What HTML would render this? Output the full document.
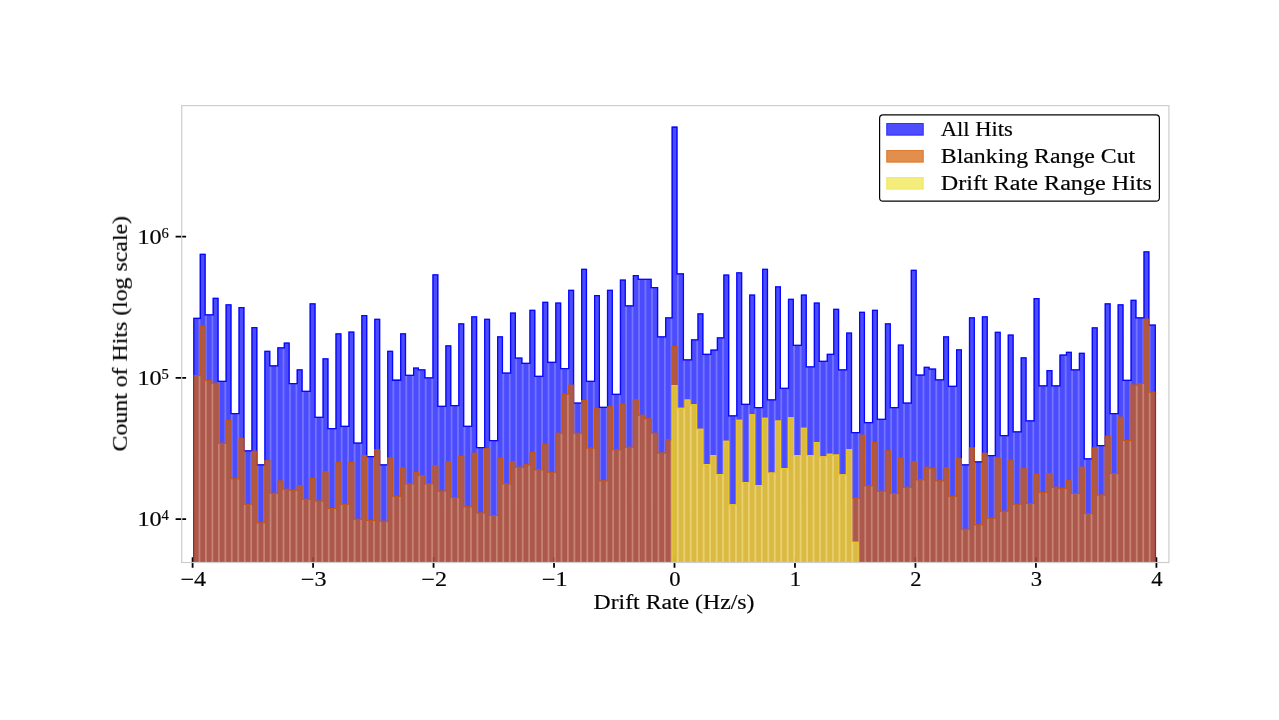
<!DOCTYPE html>
<html><head><meta charset="utf-8"><title>Drift Rate Histogram</title>
<style>html,body{margin:0;padding:0;background:#fff;}body{width:1279px;height:720px;overflow:hidden;position:relative;font-family:"Liberation Serif",serif;}</style>
</head><body>
<svg width="1279" height="720" viewBox="0 0 1279 720" style="position:absolute;left:0;top:0;display:block" font-family="'Liberation Serif', serif" fill="#000">
<rect width="1279" height="720" fill="#fff"/>
<path d="M192.6,557.2V567.7M313.08,557.2V567.7M433.55,557.2V567.7M554.02,557.2V567.7M674.5,557.2V567.7M794.98,557.2V567.7M915.45,557.2V567.7M1035.92,557.2V567.7M1156.4,557.2V567.7M175.6,236.6H186.1M175.6,377.9H186.1M175.6,519.1H186.1" stroke="#000" stroke-width="1.8" fill="none"/>
<clipPath id="c"><rect x="181.7" y="105.6" width="987.2" height="456.9"/></clipPath>
<g clip-path="url(#c)">
<clipPath id="s1"><path d="M193.22,565.5 L193.22,317.7 L199.68,317.7 L199.68,253.8 L205.71,253.8 L205.71,314.2 L212.61,314.2 L212.61,297.8 L218.64,297.8 L218.64,380.8 L225.54,380.8 L225.54,304.2 L231.56,304.2 L231.56,413 L238.47,413 L238.47,307 L244.49,307 L244.49,450.3 L251.4,450.3 L251.4,327 L257.42,327 L257.42,464.2 L264.32,464.2 L264.32,350.7 L270.35,350.7 L270.35,365.3 L277.25,365.3 L277.25,347.2 L283.72,347.2 L283.72,342.5 L289.74,342.5 L289.74,383 L296.64,383 L296.64,369.2 L302.67,369.2 L302.67,390.8 L309.57,390.8 L309.57,303.3 L315.6,303.3 L315.6,416.7 L322.5,416.7 L322.5,358.2 L328.52,358.2 L328.52,428 L335.43,428 L335.43,333.3 L341.45,333.3 L341.45,425.8 L348.36,425.8 L348.36,331.5 L354.38,331.5 L354.38,442.5 L361.28,442.5 L361.28,315 L367.31,315 L367.31,456 L374.21,456 L374.21,318.7 L380.24,318.7 L380.24,464.2 L387.14,464.2 L387.14,350.8 L393.16,350.8 L393.16,379.6 L400.07,379.6 L400.07,333.3 L406.09,333.3 L406.09,374.7 L413,374.7 L413,367.5 L419.02,367.5 L419.02,369.2 L425.48,369.2 L425.48,377.2 L432.39,377.2 L432.39,274.2 L438.41,274.2 L438.41,405.8 L445.32,405.8 L445.32,345.3 L451.34,345.3 L451.34,405 L458.24,405 L458.24,323.3 L464.27,323.3 L464.27,425.8 L471.17,425.8 L471.17,316.2 L477.2,316.2 L477.2,447 L484.1,447 L484.1,318.7 L490.12,318.7 L490.12,440 L497.03,440 L497.03,336.3 L503.05,336.3 L503.05,372.5 L509.96,372.5 L509.96,312.5 L515.98,312.5 L515.98,357.5 L522.44,357.5 L522.44,362.7 L529.35,362.7 L529.35,309.7 L535.37,309.7 L535.37,375.8 L542.28,375.8 L542.28,301.7 L548.3,301.7 L548.3,361.8 L555.2,361.8 L555.2,302.5 L561.23,302.5 L561.23,367.9 L568.13,367.9 L568.13,289.7 L574.16,289.7 L574.16,402.5 L581.06,402.5 L581.06,268.7 L587.08,268.7 L587.08,380.8 L593.99,380.8 L593.99,295 L600.01,295 L600.01,406.7 L606.92,406.7 L606.92,289.7 L612.94,289.7 L612.94,393.8 L619.84,393.8 L619.84,279.5 L625.87,279.5 L625.87,305.3 L632.77,305.3 L632.77,275 L638.8,275 L638.8,278.8 L645.48,278.8 L645.48,278.8 L651.72,278.8 L651.72,287 L658.19,287 L658.19,336.3 L665.09,336.3 L665.09,317.2 L671.56,317.2 L671.56,126.6 L677.58,126.6 L677.58,273.3 L684.04,273.3 L684.04,359.2 L690.95,359.2 L690.95,339.2 L697.41,339.2 L697.41,313.3 L703.44,313.3 L703.44,353.7 L710.34,353.7 L710.34,349.5 L716.8,349.5 L716.8,337.2 L723.27,337.2 L723.27,274.5 L729.29,274.5 L729.29,415.3 L736.2,415.3 L736.2,272.2 L742.22,272.2 L742.22,403.7 L749.12,403.7 L749.12,294.5 L755.15,294.5 L755.15,407 L762.05,407 L762.05,268.8 L768.08,268.8 L768.08,399.2 L774.98,399.2 L774.98,286.2 L781,286.2 L781,387.8 L787.91,387.8 L787.91,298.8 L793.93,298.8 L793.93,344.7 L800.84,344.7 L800.84,294.5 L806.86,294.5 L806.86,366.3 L813.76,366.3 L813.76,302.5 L819.79,302.5 L819.79,360.8 L826.69,360.8 L826.69,353.7 L833.16,353.7 L833.16,308.8 L839.18,308.8 L839.18,369.2 L846.08,369.2 L846.08,332.5 L852.11,332.5 L852.11,432 L859.01,432 L859.01,311.7 L865.04,311.7 L865.04,422 L871.94,422 L871.94,309.7 L877.96,309.7 L877.96,418.8 L884.87,418.8 L884.87,323.3 L890.89,323.3 L890.89,407 L897.8,407 L897.8,344.5 L903.82,344.5 L903.82,402.5 L910.72,402.5 L910.72,269.7 L916.75,269.7 L916.75,374.5 L923.65,374.5 L923.65,366.7 L929.68,366.7 L929.68,368.5 L936.14,368.5 L936.14,379.2 L943.04,379.2 L943.04,336.3 L949.07,336.3 L949.07,385.8 L955.97,385.8 L955.97,349.2 L962,349.2 L962,464.2 L968.9,464.2 L968.9,317.2 L974.92,317.2 L974.92,461.2 L981.83,461.2 L981.83,316.3 L987.85,316.3 L987.85,455 L994.76,455 L994.76,331.7 L1000.78,331.7 L1000.78,435 L1007.68,435 L1007.68,334.5 L1013.71,334.5 L1013.71,431.2 L1020.61,431.2 L1020.61,357.2 L1026.64,357.2 L1026.64,420.3 L1033.54,420.3 L1033.54,298 L1039.56,298 L1039.56,385.3 L1046.47,385.3 L1046.47,370 L1052.49,370 L1052.49,385.3 L1059.4,385.3 L1059.4,354.5 L1065.86,354.5 L1065.86,351.7 L1071.88,351.7 L1071.88,369.2 L1078.79,369.2 L1078.79,352.7 L1084.81,352.7 L1084.81,458.3 L1091.72,458.3 L1091.72,327.2 L1097.74,327.2 L1097.74,445 L1104.64,445 L1104.64,303.3 L1110.67,303.3 L1110.67,413 L1117.57,413 L1117.57,304.2 L1123.6,304.2 L1123.6,379.8 L1130.5,379.8 L1130.5,299.7 L1136.52,299.7 L1136.52,317.2 L1143.43,317.2 L1143.43,251.2 L1149.45,251.2 L1149.45,324.5 L1155.92,324.5 L1155.92,565.5Z"/></clipPath>
<path d="M193.22,565.5 L193.22,317.7 L199.68,317.7 L199.68,253.8 L205.71,253.8 L205.71,314.2 L212.61,314.2 L212.61,297.8 L218.64,297.8 L218.64,380.8 L225.54,380.8 L225.54,304.2 L231.56,304.2 L231.56,413 L238.47,413 L238.47,307 L244.49,307 L244.49,450.3 L251.4,450.3 L251.4,327 L257.42,327 L257.42,464.2 L264.32,464.2 L264.32,350.7 L270.35,350.7 L270.35,365.3 L277.25,365.3 L277.25,347.2 L283.72,347.2 L283.72,342.5 L289.74,342.5 L289.74,383 L296.64,383 L296.64,369.2 L302.67,369.2 L302.67,390.8 L309.57,390.8 L309.57,303.3 L315.6,303.3 L315.6,416.7 L322.5,416.7 L322.5,358.2 L328.52,358.2 L328.52,428 L335.43,428 L335.43,333.3 L341.45,333.3 L341.45,425.8 L348.36,425.8 L348.36,331.5 L354.38,331.5 L354.38,442.5 L361.28,442.5 L361.28,315 L367.31,315 L367.31,456 L374.21,456 L374.21,318.7 L380.24,318.7 L380.24,464.2 L387.14,464.2 L387.14,350.8 L393.16,350.8 L393.16,379.6 L400.07,379.6 L400.07,333.3 L406.09,333.3 L406.09,374.7 L413,374.7 L413,367.5 L419.02,367.5 L419.02,369.2 L425.48,369.2 L425.48,377.2 L432.39,377.2 L432.39,274.2 L438.41,274.2 L438.41,405.8 L445.32,405.8 L445.32,345.3 L451.34,345.3 L451.34,405 L458.24,405 L458.24,323.3 L464.27,323.3 L464.27,425.8 L471.17,425.8 L471.17,316.2 L477.2,316.2 L477.2,447 L484.1,447 L484.1,318.7 L490.12,318.7 L490.12,440 L497.03,440 L497.03,336.3 L503.05,336.3 L503.05,372.5 L509.96,372.5 L509.96,312.5 L515.98,312.5 L515.98,357.5 L522.44,357.5 L522.44,362.7 L529.35,362.7 L529.35,309.7 L535.37,309.7 L535.37,375.8 L542.28,375.8 L542.28,301.7 L548.3,301.7 L548.3,361.8 L555.2,361.8 L555.2,302.5 L561.23,302.5 L561.23,367.9 L568.13,367.9 L568.13,289.7 L574.16,289.7 L574.16,402.5 L581.06,402.5 L581.06,268.7 L587.08,268.7 L587.08,380.8 L593.99,380.8 L593.99,295 L600.01,295 L600.01,406.7 L606.92,406.7 L606.92,289.7 L612.94,289.7 L612.94,393.8 L619.84,393.8 L619.84,279.5 L625.87,279.5 L625.87,305.3 L632.77,305.3 L632.77,275 L638.8,275 L638.8,278.8 L645.48,278.8 L645.48,278.8 L651.72,278.8 L651.72,287 L658.19,287 L658.19,336.3 L665.09,336.3 L665.09,317.2 L671.56,317.2 L671.56,126.6 L677.58,126.6 L677.58,273.3 L684.04,273.3 L684.04,359.2 L690.95,359.2 L690.95,339.2 L697.41,339.2 L697.41,313.3 L703.44,313.3 L703.44,353.7 L710.34,353.7 L710.34,349.5 L716.8,349.5 L716.8,337.2 L723.27,337.2 L723.27,274.5 L729.29,274.5 L729.29,415.3 L736.2,415.3 L736.2,272.2 L742.22,272.2 L742.22,403.7 L749.12,403.7 L749.12,294.5 L755.15,294.5 L755.15,407 L762.05,407 L762.05,268.8 L768.08,268.8 L768.08,399.2 L774.98,399.2 L774.98,286.2 L781,286.2 L781,387.8 L787.91,387.8 L787.91,298.8 L793.93,298.8 L793.93,344.7 L800.84,344.7 L800.84,294.5 L806.86,294.5 L806.86,366.3 L813.76,366.3 L813.76,302.5 L819.79,302.5 L819.79,360.8 L826.69,360.8 L826.69,353.7 L833.16,353.7 L833.16,308.8 L839.18,308.8 L839.18,369.2 L846.08,369.2 L846.08,332.5 L852.11,332.5 L852.11,432 L859.01,432 L859.01,311.7 L865.04,311.7 L865.04,422 L871.94,422 L871.94,309.7 L877.96,309.7 L877.96,418.8 L884.87,418.8 L884.87,323.3 L890.89,323.3 L890.89,407 L897.8,407 L897.8,344.5 L903.82,344.5 L903.82,402.5 L910.72,402.5 L910.72,269.7 L916.75,269.7 L916.75,374.5 L923.65,374.5 L923.65,366.7 L929.68,366.7 L929.68,368.5 L936.14,368.5 L936.14,379.2 L943.04,379.2 L943.04,336.3 L949.07,336.3 L949.07,385.8 L955.97,385.8 L955.97,349.2 L962,349.2 L962,464.2 L968.9,464.2 L968.9,317.2 L974.92,317.2 L974.92,461.2 L981.83,461.2 L981.83,316.3 L987.85,316.3 L987.85,455 L994.76,455 L994.76,331.7 L1000.78,331.7 L1000.78,435 L1007.68,435 L1007.68,334.5 L1013.71,334.5 L1013.71,431.2 L1020.61,431.2 L1020.61,357.2 L1026.64,357.2 L1026.64,420.3 L1033.54,420.3 L1033.54,298 L1039.56,298 L1039.56,385.3 L1046.47,385.3 L1046.47,370 L1052.49,370 L1052.49,385.3 L1059.4,385.3 L1059.4,354.5 L1065.86,354.5 L1065.86,351.7 L1071.88,351.7 L1071.88,369.2 L1078.79,369.2 L1078.79,352.7 L1084.81,352.7 L1084.81,458.3 L1091.72,458.3 L1091.72,327.2 L1097.74,327.2 L1097.74,445 L1104.64,445 L1104.64,303.3 L1110.67,303.3 L1110.67,413 L1117.57,413 L1117.57,304.2 L1123.6,304.2 L1123.6,379.8 L1130.5,379.8 L1130.5,299.7 L1136.52,299.7 L1136.52,317.2 L1143.43,317.2 L1143.43,251.2 L1149.45,251.2 L1149.45,324.5 L1155.92,324.5 L1155.92,565.5Z" fill="#0000ff" fill-opacity="0.7"/>
<path d="M199.46,319V562.5M205.93,315.5V562.5M212.39,315.5V562.5M218.86,382.1V562.5M225.32,382.1V562.5M231.78,414.3V562.5M238.25,414.3V562.5M244.71,451.6V562.5M251.18,451.6V562.5M257.64,465.5V562.5M264.1,465.5V562.5M270.57,366.6V562.5M277.03,366.6V562.5M283.5,348.5V562.5M289.96,384.3V562.5M296.42,384.3V562.5M302.89,392.1V562.5M309.35,392.1V562.5M315.82,418V562.5M322.28,418V562.5M328.74,429.3V562.5M335.21,429.3V562.5M341.67,427.1V562.5M348.14,427.1V562.5M354.6,443.8V562.5M361.06,443.8V562.5M367.53,457.3V562.5M373.99,457.3V562.5M380.46,465.5V562.5M386.92,465.5V562.5M393.38,380.9V562.5M399.85,380.9V562.5M406.31,376V562.5M412.78,376V562.5M419.24,370.5V562.5M425.7,378.5V562.5M432.17,378.5V562.5M438.63,407.1V562.5M445.1,407.1V562.5M451.56,406.3V562.5M458.02,406.3V562.5M464.49,427.1V562.5M470.95,427.1V562.5M477.42,448.3V562.5M483.88,448.3V562.5M490.34,441.3V562.5M496.81,441.3V562.5M503.27,373.8V562.5M509.74,373.8V562.5M516.2,358.8V562.5M522.66,364V562.5M529.13,364V562.5M535.59,377.1V562.5M542.06,377.1V562.5M548.52,363.1V562.5M554.98,363.1V562.5M561.45,369.2V562.5M567.91,369.2V562.5M574.38,403.8V562.5M580.84,403.8V562.5M587.3,382.1V562.5M593.77,382.1V562.5M600.23,408V562.5M606.7,408V562.5M613.16,395.1V562.5M619.62,395.1V562.5M626.09,306.6V562.5M632.55,306.6V562.5M639.02,280.1V562.5M645.48,280.1V562.5M651.94,288.3V562.5M658.41,337.6V562.5M664.87,337.6V562.5M671.34,318.5V562.5M677.8,274.6V562.5M684.26,360.5V562.5M690.73,360.5V562.5M697.19,340.5V562.5M703.66,355V562.5M710.12,355V562.5M716.58,350.8V562.5M723.05,338.5V562.5M729.51,416.6V562.5M735.98,416.6V562.5M742.44,405V562.5M748.9,405V562.5M755.37,408.3V562.5M761.83,408.3V562.5M768.3,400.5V562.5M774.76,400.5V562.5M781.22,389.1V562.5M787.69,389.1V562.5M794.15,346V562.5M800.62,346V562.5M807.08,367.6V562.5M813.54,367.6V562.5M820.01,362.1V562.5M826.47,362.1V562.5M832.94,355V562.5M839.4,370.5V562.5M845.86,370.5V562.5M852.33,433.3V562.5M858.79,433.3V562.5M865.26,423.3V562.5M871.72,423.3V562.5M878.18,420.1V562.5M884.65,420.1V562.5M891.11,408.3V562.5M897.58,408.3V562.5M904.04,403.8V562.5M910.5,403.8V562.5M916.97,375.8V562.5M923.43,375.8V562.5M929.9,369.8V562.5M936.36,380.5V562.5M942.82,380.5V562.5M949.29,387.1V562.5M955.75,387.1V562.5M962.22,465.5V562.5M968.68,465.5V562.5M975.14,462.5V562.5M981.61,462.5V562.5M988.07,456.3V562.5M994.54,456.3V562.5M1001,436.3V562.5M1007.46,436.3V562.5M1013.93,432.5V562.5M1020.39,432.5V562.5M1026.86,421.6V562.5M1033.32,421.6V562.5M1039.78,386.6V562.5M1046.25,386.6V562.5M1052.71,386.6V562.5M1059.18,386.6V562.5M1065.64,355.8V562.5M1072.1,370.5V562.5M1078.57,370.5V562.5M1085.03,459.6V562.5M1091.5,459.6V562.5M1097.96,446.3V562.5M1104.42,446.3V562.5M1110.89,414.3V562.5M1117.35,414.3V562.5M1123.82,381.1V562.5M1130.28,381.1V562.5M1136.74,318.5V562.5M1143.21,318.5V562.5M1149.67,325.8V562.5" stroke="#fff" stroke-opacity="0.22" stroke-width="1.8" fill="none"/>
<path d="M193.22,565.5 L193.22,317.7 L199.68,317.7 L199.68,253.8 L205.71,253.8 L205.71,314.2 L212.61,314.2 L212.61,297.8 L218.64,297.8 L218.64,380.8 L225.54,380.8 L225.54,304.2 L231.56,304.2 L231.56,413 L238.47,413 L238.47,307 L244.49,307 L244.49,450.3 L251.4,450.3 L251.4,327 L257.42,327 L257.42,464.2 L264.32,464.2 L264.32,350.7 L270.35,350.7 L270.35,365.3 L277.25,365.3 L277.25,347.2 L283.72,347.2 L283.72,342.5 L289.74,342.5 L289.74,383 L296.64,383 L296.64,369.2 L302.67,369.2 L302.67,390.8 L309.57,390.8 L309.57,303.3 L315.6,303.3 L315.6,416.7 L322.5,416.7 L322.5,358.2 L328.52,358.2 L328.52,428 L335.43,428 L335.43,333.3 L341.45,333.3 L341.45,425.8 L348.36,425.8 L348.36,331.5 L354.38,331.5 L354.38,442.5 L361.28,442.5 L361.28,315 L367.31,315 L367.31,456 L374.21,456 L374.21,318.7 L380.24,318.7 L380.24,464.2 L387.14,464.2 L387.14,350.8 L393.16,350.8 L393.16,379.6 L400.07,379.6 L400.07,333.3 L406.09,333.3 L406.09,374.7 L413,374.7 L413,367.5 L419.02,367.5 L419.02,369.2 L425.48,369.2 L425.48,377.2 L432.39,377.2 L432.39,274.2 L438.41,274.2 L438.41,405.8 L445.32,405.8 L445.32,345.3 L451.34,345.3 L451.34,405 L458.24,405 L458.24,323.3 L464.27,323.3 L464.27,425.8 L471.17,425.8 L471.17,316.2 L477.2,316.2 L477.2,447 L484.1,447 L484.1,318.7 L490.12,318.7 L490.12,440 L497.03,440 L497.03,336.3 L503.05,336.3 L503.05,372.5 L509.96,372.5 L509.96,312.5 L515.98,312.5 L515.98,357.5 L522.44,357.5 L522.44,362.7 L529.35,362.7 L529.35,309.7 L535.37,309.7 L535.37,375.8 L542.28,375.8 L542.28,301.7 L548.3,301.7 L548.3,361.8 L555.2,361.8 L555.2,302.5 L561.23,302.5 L561.23,367.9 L568.13,367.9 L568.13,289.7 L574.16,289.7 L574.16,402.5 L581.06,402.5 L581.06,268.7 L587.08,268.7 L587.08,380.8 L593.99,380.8 L593.99,295 L600.01,295 L600.01,406.7 L606.92,406.7 L606.92,289.7 L612.94,289.7 L612.94,393.8 L619.84,393.8 L619.84,279.5 L625.87,279.5 L625.87,305.3 L632.77,305.3 L632.77,275 L638.8,275 L638.8,278.8 L645.48,278.8 L645.48,278.8 L651.72,278.8 L651.72,287 L658.19,287 L658.19,336.3 L665.09,336.3 L665.09,317.2 L671.56,317.2 L671.56,126.6 L677.58,126.6 L677.58,273.3 L684.04,273.3 L684.04,359.2 L690.95,359.2 L690.95,339.2 L697.41,339.2 L697.41,313.3 L703.44,313.3 L703.44,353.7 L710.34,353.7 L710.34,349.5 L716.8,349.5 L716.8,337.2 L723.27,337.2 L723.27,274.5 L729.29,274.5 L729.29,415.3 L736.2,415.3 L736.2,272.2 L742.22,272.2 L742.22,403.7 L749.12,403.7 L749.12,294.5 L755.15,294.5 L755.15,407 L762.05,407 L762.05,268.8 L768.08,268.8 L768.08,399.2 L774.98,399.2 L774.98,286.2 L781,286.2 L781,387.8 L787.91,387.8 L787.91,298.8 L793.93,298.8 L793.93,344.7 L800.84,344.7 L800.84,294.5 L806.86,294.5 L806.86,366.3 L813.76,366.3 L813.76,302.5 L819.79,302.5 L819.79,360.8 L826.69,360.8 L826.69,353.7 L833.16,353.7 L833.16,308.8 L839.18,308.8 L839.18,369.2 L846.08,369.2 L846.08,332.5 L852.11,332.5 L852.11,432 L859.01,432 L859.01,311.7 L865.04,311.7 L865.04,422 L871.94,422 L871.94,309.7 L877.96,309.7 L877.96,418.8 L884.87,418.8 L884.87,323.3 L890.89,323.3 L890.89,407 L897.8,407 L897.8,344.5 L903.82,344.5 L903.82,402.5 L910.72,402.5 L910.72,269.7 L916.75,269.7 L916.75,374.5 L923.65,374.5 L923.65,366.7 L929.68,366.7 L929.68,368.5 L936.14,368.5 L936.14,379.2 L943.04,379.2 L943.04,336.3 L949.07,336.3 L949.07,385.8 L955.97,385.8 L955.97,349.2 L962,349.2 L962,464.2 L968.9,464.2 L968.9,317.2 L974.92,317.2 L974.92,461.2 L981.83,461.2 L981.83,316.3 L987.85,316.3 L987.85,455 L994.76,455 L994.76,331.7 L1000.78,331.7 L1000.78,435 L1007.68,435 L1007.68,334.5 L1013.71,334.5 L1013.71,431.2 L1020.61,431.2 L1020.61,357.2 L1026.64,357.2 L1026.64,420.3 L1033.54,420.3 L1033.54,298 L1039.56,298 L1039.56,385.3 L1046.47,385.3 L1046.47,370 L1052.49,370 L1052.49,385.3 L1059.4,385.3 L1059.4,354.5 L1065.86,354.5 L1065.86,351.7 L1071.88,351.7 L1071.88,369.2 L1078.79,369.2 L1078.79,352.7 L1084.81,352.7 L1084.81,458.3 L1091.72,458.3 L1091.72,327.2 L1097.74,327.2 L1097.74,445 L1104.64,445 L1104.64,303.3 L1110.67,303.3 L1110.67,413 L1117.57,413 L1117.57,304.2 L1123.6,304.2 L1123.6,379.8 L1130.5,379.8 L1130.5,299.7 L1136.52,299.7 L1136.52,317.2 L1143.43,317.2 L1143.43,251.2 L1149.45,251.2 L1149.45,324.5 L1155.92,324.5 L1155.92,565.5" fill="none" stroke="#0000ff" stroke-opacity="0.9" stroke-width="2.6" stroke-linejoin="miter" clip-path="url(#s1)"/>
<clipPath id="s2"><path d="M193.22,565.5 L193.22,375 L199.68,375 L199.68,325.8 L205.71,325.8 L205.71,380 L212.17,380 L212.17,382.8 L218.64,382.8 L218.64,442.8 L225.54,442.8 L225.54,420 L231.56,420 L231.56,478.3 L238.47,478.3 L238.47,438.3 L244.49,438.3 L244.49,503.7 L251.4,503.7 L251.4,450.8 L257.42,450.8 L257.42,522.2 L264.32,522.2 L264.32,460.3 L270.35,460.3 L270.35,492.8 L277.25,492.8 L277.25,480.5 L283.28,480.5 L283.28,488.7 L289.74,488.7 L289.74,489.7 L296.64,489.7 L296.64,485 L302.67,485 L302.67,498.7 L309.57,498.7 L309.57,478 L315.6,478 L315.6,500.5 L322.5,500.5 L322.5,471.2 L328.52,471.2 L328.52,508 L335.43,508 L335.43,462 L341.45,462 L341.45,503.7 L348.36,503.7 L348.36,462 L354.38,462 L354.38,518.7 L361.28,518.7 L361.28,455 L367.31,455 L367.31,520 L374.21,520 L374.21,449.2 L380.24,449.2 L380.24,520.8 L387.14,520.8 L387.14,457.5 L393.16,457.5 L393.16,495.8 L400.07,495.8 L400.07,467.5 L406.09,467.5 L406.09,483.2 L413,483.2 L413,472 L419.02,472 L419.02,475 L425.48,475 L425.48,483.2 L432.39,483.2 L432.39,465 L438.41,465 L438.41,490.5 L445.32,490.5 L445.32,461.2 L451.34,461.2 L451.34,497 L458.24,497 L458.24,455.8 L464.27,455.8 L464.27,506.2 L471.17,506.2 L471.17,452.8 L477.2,452.8 L477.2,512.5 L484.1,512.5 L484.1,448.3 L490.12,448.3 L490.12,515 L497.03,515 L497.03,457.5 L503.05,457.5 L503.05,483.2 L509.96,483.2 L509.96,461.2 L515.98,461.2 L515.98,466.7 L522.88,466.7 L522.88,464.2 L529.35,464.2 L529.35,452 L535.37,452 L535.37,469.3 L542.28,469.3 L542.28,443.8 L548.3,443.8 L548.3,471.8 L555.2,471.8 L555.2,432.8 L561.67,432.8 L561.67,393.8 L568.13,393.8 L568.13,384.7 L574.16,384.7 L574.16,432.8 L581.06,432.8 L581.06,400 L587.08,400 L587.08,447.5 L593.99,447.5 L593.99,408.3 L600.01,408.3 L600.01,480.3 L606.92,480.3 L606.92,406.3 L612.94,406.3 L612.94,449.2 L619.84,449.2 L619.84,403.8 L625.87,403.8 L625.87,446.7 L632.77,446.7 L632.77,399.2 L638.8,399.2 L638.8,414.7 L645.26,414.7 L645.26,418.3 L651.72,418.3 L651.72,432.8 L658.19,432.8 L658.19,452.6 L665.09,452.6 L665.09,439.2 L671.56,439.2 L671.56,346 L677.58,346 L677.58,407.8 L684.48,407.8 L684.48,399.5 L690.51,399.5 L690.51,404.2 L696.97,404.2 L696.97,428.7 L703.44,428.7 L703.44,464 L710.34,464 L710.34,455 L716.36,455 L716.36,474 L723.27,474 L723.27,440.8 L729.29,440.8 L729.29,504.2 L736.2,504.2 L736.2,419.7 L742.22,419.7 L742.22,482 L749.12,482 L749.12,414.2 L755.15,414.2 L755.15,485 L762.05,485 L762.05,417.8 L768.08,417.8 L768.08,472.5 L774.98,472.5 L774.98,420.5 L781,420.5 L781,468 L787.91,468 L787.91,417.2 L793.93,417.2 L793.93,455 L800.84,455 L800.84,427.8 L806.86,427.8 L806.86,455 L813.76,455 L813.76,442 L819.79,442 L819.79,456.2 L826.69,456.2 L826.69,453.7 L832.72,453.7 L832.72,454.5 L839.18,454.5 L839.18,474.2 L846.08,474.2 L846.08,449.2 L852.11,449.2 L852.11,497.5 L859.01,497.5 L859.01,434.7 L865.04,434.7 L865.04,485.3 L871.94,485.3 L871.94,442 L877.96,442 L877.96,490.8 L884.87,490.8 L884.87,450.3 L890.89,450.3 L890.89,493 L897.8,493 L897.8,457.7 L903.82,457.7 L903.82,486.7 L910.72,486.7 L910.72,461.2 L916.75,461.2 L916.75,479.3 L923.65,479.3 L923.65,466.7 L929.68,466.7 L929.68,467.7 L936.14,467.7 L936.14,480.3 L943.04,480.3 L943.04,467.6 L949.07,467.6 L949.07,495.8 L955.97,495.8 L955.97,458.3 L962,458.3 L962,528.7 L968.9,528.7 L968.9,447.5 L974.92,447.5 L974.92,524.2 L981.83,524.2 L981.83,452.8 L987.85,452.8 L987.85,517.8 L994.76,517.8 L994.76,457.5 L1000.78,457.5 L1000.78,510.8 L1007.68,510.8 L1007.68,460.2 L1013.71,460.2 L1013.71,503.8 L1020.61,503.8 L1020.61,468.3 L1026.64,468.3 L1026.64,503 L1033.54,503 L1033.54,473.8 L1039.56,473.8 L1039.56,492 L1046.47,492 L1046.47,473 L1052.49,473 L1052.49,486.7 L1058.96,486.7 L1058.96,487.8 L1065.86,487.8 L1065.86,480.3 L1071.88,480.3 L1071.88,493 L1078.79,493 L1078.79,466.7 L1084.81,466.7 L1084.81,513 L1091.72,513 L1091.72,447.5 L1097.74,447.5 L1097.74,494.5 L1104.64,494.5 L1104.64,435.8 L1110.67,435.8 L1110.67,472.9 L1117.57,472.9 L1117.57,416.7 L1123.6,416.7 L1123.6,440 L1130.5,440 L1130.5,384.5 L1136.96,384.5 L1136.96,383 L1143.43,383 L1143.43,318.8 L1149.45,318.8 L1149.45,391.7 L1155.92,391.7 L1155.92,565.5Z"/></clipPath>
<path d="M193.22,565.5 L193.22,375 L199.68,375 L199.68,325.8 L205.71,325.8 L205.71,380 L212.17,380 L212.17,382.8 L218.64,382.8 L218.64,442.8 L225.54,442.8 L225.54,420 L231.56,420 L231.56,478.3 L238.47,478.3 L238.47,438.3 L244.49,438.3 L244.49,503.7 L251.4,503.7 L251.4,450.8 L257.42,450.8 L257.42,522.2 L264.32,522.2 L264.32,460.3 L270.35,460.3 L270.35,492.8 L277.25,492.8 L277.25,480.5 L283.28,480.5 L283.28,488.7 L289.74,488.7 L289.74,489.7 L296.64,489.7 L296.64,485 L302.67,485 L302.67,498.7 L309.57,498.7 L309.57,478 L315.6,478 L315.6,500.5 L322.5,500.5 L322.5,471.2 L328.52,471.2 L328.52,508 L335.43,508 L335.43,462 L341.45,462 L341.45,503.7 L348.36,503.7 L348.36,462 L354.38,462 L354.38,518.7 L361.28,518.7 L361.28,455 L367.31,455 L367.31,520 L374.21,520 L374.21,449.2 L380.24,449.2 L380.24,520.8 L387.14,520.8 L387.14,457.5 L393.16,457.5 L393.16,495.8 L400.07,495.8 L400.07,467.5 L406.09,467.5 L406.09,483.2 L413,483.2 L413,472 L419.02,472 L419.02,475 L425.48,475 L425.48,483.2 L432.39,483.2 L432.39,465 L438.41,465 L438.41,490.5 L445.32,490.5 L445.32,461.2 L451.34,461.2 L451.34,497 L458.24,497 L458.24,455.8 L464.27,455.8 L464.27,506.2 L471.17,506.2 L471.17,452.8 L477.2,452.8 L477.2,512.5 L484.1,512.5 L484.1,448.3 L490.12,448.3 L490.12,515 L497.03,515 L497.03,457.5 L503.05,457.5 L503.05,483.2 L509.96,483.2 L509.96,461.2 L515.98,461.2 L515.98,466.7 L522.88,466.7 L522.88,464.2 L529.35,464.2 L529.35,452 L535.37,452 L535.37,469.3 L542.28,469.3 L542.28,443.8 L548.3,443.8 L548.3,471.8 L555.2,471.8 L555.2,432.8 L561.67,432.8 L561.67,393.8 L568.13,393.8 L568.13,384.7 L574.16,384.7 L574.16,432.8 L581.06,432.8 L581.06,400 L587.08,400 L587.08,447.5 L593.99,447.5 L593.99,408.3 L600.01,408.3 L600.01,480.3 L606.92,480.3 L606.92,406.3 L612.94,406.3 L612.94,449.2 L619.84,449.2 L619.84,403.8 L625.87,403.8 L625.87,446.7 L632.77,446.7 L632.77,399.2 L638.8,399.2 L638.8,414.7 L645.26,414.7 L645.26,418.3 L651.72,418.3 L651.72,432.8 L658.19,432.8 L658.19,452.6 L665.09,452.6 L665.09,439.2 L671.56,439.2 L671.56,346 L677.58,346 L677.58,407.8 L684.48,407.8 L684.48,399.5 L690.51,399.5 L690.51,404.2 L696.97,404.2 L696.97,428.7 L703.44,428.7 L703.44,464 L710.34,464 L710.34,455 L716.36,455 L716.36,474 L723.27,474 L723.27,440.8 L729.29,440.8 L729.29,504.2 L736.2,504.2 L736.2,419.7 L742.22,419.7 L742.22,482 L749.12,482 L749.12,414.2 L755.15,414.2 L755.15,485 L762.05,485 L762.05,417.8 L768.08,417.8 L768.08,472.5 L774.98,472.5 L774.98,420.5 L781,420.5 L781,468 L787.91,468 L787.91,417.2 L793.93,417.2 L793.93,455 L800.84,455 L800.84,427.8 L806.86,427.8 L806.86,455 L813.76,455 L813.76,442 L819.79,442 L819.79,456.2 L826.69,456.2 L826.69,453.7 L832.72,453.7 L832.72,454.5 L839.18,454.5 L839.18,474.2 L846.08,474.2 L846.08,449.2 L852.11,449.2 L852.11,497.5 L859.01,497.5 L859.01,434.7 L865.04,434.7 L865.04,485.3 L871.94,485.3 L871.94,442 L877.96,442 L877.96,490.8 L884.87,490.8 L884.87,450.3 L890.89,450.3 L890.89,493 L897.8,493 L897.8,457.7 L903.82,457.7 L903.82,486.7 L910.72,486.7 L910.72,461.2 L916.75,461.2 L916.75,479.3 L923.65,479.3 L923.65,466.7 L929.68,466.7 L929.68,467.7 L936.14,467.7 L936.14,480.3 L943.04,480.3 L943.04,467.6 L949.07,467.6 L949.07,495.8 L955.97,495.8 L955.97,458.3 L962,458.3 L962,528.7 L968.9,528.7 L968.9,447.5 L974.92,447.5 L974.92,524.2 L981.83,524.2 L981.83,452.8 L987.85,452.8 L987.85,517.8 L994.76,517.8 L994.76,457.5 L1000.78,457.5 L1000.78,510.8 L1007.68,510.8 L1007.68,460.2 L1013.71,460.2 L1013.71,503.8 L1020.61,503.8 L1020.61,468.3 L1026.64,468.3 L1026.64,503 L1033.54,503 L1033.54,473.8 L1039.56,473.8 L1039.56,492 L1046.47,492 L1046.47,473 L1052.49,473 L1052.49,486.7 L1058.96,486.7 L1058.96,487.8 L1065.86,487.8 L1065.86,480.3 L1071.88,480.3 L1071.88,493 L1078.79,493 L1078.79,466.7 L1084.81,466.7 L1084.81,513 L1091.72,513 L1091.72,447.5 L1097.74,447.5 L1097.74,494.5 L1104.64,494.5 L1104.64,435.8 L1110.67,435.8 L1110.67,472.9 L1117.57,472.9 L1117.57,416.7 L1123.6,416.7 L1123.6,440 L1130.5,440 L1130.5,384.5 L1136.96,384.5 L1136.96,383 L1143.43,383 L1143.43,318.8 L1149.45,318.8 L1149.45,391.7 L1155.92,391.7 L1155.92,565.5Z" fill="#d55e00" fill-opacity="0.7"/>
<path d="M199.46,376V562.5M205.93,381V562.5M212.39,383.8V562.5M218.86,443.8V562.5M225.32,443.8V562.5M231.78,479.3V562.5M238.25,479.3V562.5M244.71,504.7V562.5M251.18,504.7V562.5M257.64,523.2V562.5M264.1,523.2V562.5M270.57,493.8V562.5M277.03,493.8V562.5M283.5,489.7V562.5M289.96,490.7V562.5M296.42,490.7V562.5M302.89,499.7V562.5M309.35,499.7V562.5M315.82,501.5V562.5M322.28,501.5V562.5M328.74,509V562.5M335.21,509V562.5M341.67,504.7V562.5M348.14,504.7V562.5M354.6,519.7V562.5M361.06,519.7V562.5M367.53,521V562.5M373.99,521V562.5M380.46,521.8V562.5M386.92,521.8V562.5M393.38,496.8V562.5M399.85,496.8V562.5M406.31,484.2V562.5M412.78,484.2V562.5M419.24,476V562.5M425.7,484.2V562.5M432.17,484.2V562.5M438.63,491.5V562.5M445.1,491.5V562.5M451.56,498V562.5M458.02,498V562.5M464.49,507.2V562.5M470.95,507.2V562.5M477.42,513.5V562.5M483.88,513.5V562.5M490.34,516V562.5M496.81,516V562.5M503.27,484.2V562.5M509.74,484.2V562.5M516.2,467.7V562.5M522.66,467.7V562.5M529.13,465.2V562.5M535.59,470.3V562.5M542.06,470.3V562.5M548.52,472.8V562.5M554.98,472.8V562.5M561.45,433.8V562.5M567.91,394.8V562.5M574.38,433.8V562.5M580.84,433.8V562.5M587.3,448.5V562.5M593.77,448.5V562.5M600.23,481.3V562.5M606.7,481.3V562.5M613.16,450.2V562.5M619.62,450.2V562.5M626.09,447.7V562.5M632.55,447.7V562.5M639.02,415.7V562.5M645.48,419.3V562.5M651.94,433.8V562.5M658.41,453.6V562.5M664.87,453.6V562.5M671.34,440.2V562.5M677.8,408.8V562.5M684.26,408.8V562.5M690.73,405.2V562.5M697.19,429.7V562.5M703.66,465V562.5M710.12,465V562.5M716.58,475V562.5M723.05,475V562.5M729.51,505.2V562.5M735.98,505.2V562.5M742.44,483V562.5M748.9,483V562.5M755.37,486V562.5M761.83,486V562.5M768.3,473.5V562.5M774.76,473.5V562.5M781.22,469V562.5M787.69,469V562.5M794.15,456V562.5M800.62,456V562.5M807.08,456V562.5M813.54,456V562.5M820.01,457.2V562.5M826.47,457.2V562.5M832.94,455.5V562.5M839.4,475.2V562.5M845.86,475.2V562.5M852.33,498.5V562.5M858.79,498.5V562.5M865.26,486.3V562.5M871.72,486.3V562.5M878.18,491.8V562.5M884.65,491.8V562.5M891.11,494V562.5M897.58,494V562.5M904.04,487.7V562.5M910.5,487.7V562.5M916.97,480.3V562.5M923.43,480.3V562.5M929.9,468.7V562.5M936.36,481.3V562.5M942.82,481.3V562.5M949.29,496.8V562.5M955.75,496.8V562.5M962.22,529.7V562.5M968.68,529.7V562.5M975.14,525.2V562.5M981.61,525.2V562.5M988.07,518.8V562.5M994.54,518.8V562.5M1001,511.8V562.5M1007.46,511.8V562.5M1013.93,504.8V562.5M1020.39,504.8V562.5M1026.86,504V562.5M1033.32,504V562.5M1039.78,493V562.5M1046.25,493V562.5M1052.71,487.7V562.5M1059.18,488.8V562.5M1065.64,488.8V562.5M1072.1,494V562.5M1078.57,494V562.5M1085.03,514V562.5M1091.5,514V562.5M1097.96,495.5V562.5M1104.42,495.5V562.5M1110.89,473.9V562.5M1117.35,473.9V562.5M1123.82,441V562.5M1130.28,441V562.5M1136.74,385.5V562.5M1143.21,384V562.5M1149.67,392.7V562.5" stroke="#fff" stroke-opacity="0.2" stroke-width="1.8" fill="none"/>
<path d="M193.22,565.5 L193.22,375 L199.68,375 L199.68,325.8 L205.71,325.8 L205.71,380 L212.17,380 L212.17,382.8 L218.64,382.8 L218.64,442.8 L225.54,442.8 L225.54,420 L231.56,420 L231.56,478.3 L238.47,478.3 L238.47,438.3 L244.49,438.3 L244.49,503.7 L251.4,503.7 L251.4,450.8 L257.42,450.8 L257.42,522.2 L264.32,522.2 L264.32,460.3 L270.35,460.3 L270.35,492.8 L277.25,492.8 L277.25,480.5 L283.28,480.5 L283.28,488.7 L289.74,488.7 L289.74,489.7 L296.64,489.7 L296.64,485 L302.67,485 L302.67,498.7 L309.57,498.7 L309.57,478 L315.6,478 L315.6,500.5 L322.5,500.5 L322.5,471.2 L328.52,471.2 L328.52,508 L335.43,508 L335.43,462 L341.45,462 L341.45,503.7 L348.36,503.7 L348.36,462 L354.38,462 L354.38,518.7 L361.28,518.7 L361.28,455 L367.31,455 L367.31,520 L374.21,520 L374.21,449.2 L380.24,449.2 L380.24,520.8 L387.14,520.8 L387.14,457.5 L393.16,457.5 L393.16,495.8 L400.07,495.8 L400.07,467.5 L406.09,467.5 L406.09,483.2 L413,483.2 L413,472 L419.02,472 L419.02,475 L425.48,475 L425.48,483.2 L432.39,483.2 L432.39,465 L438.41,465 L438.41,490.5 L445.32,490.5 L445.32,461.2 L451.34,461.2 L451.34,497 L458.24,497 L458.24,455.8 L464.27,455.8 L464.27,506.2 L471.17,506.2 L471.17,452.8 L477.2,452.8 L477.2,512.5 L484.1,512.5 L484.1,448.3 L490.12,448.3 L490.12,515 L497.03,515 L497.03,457.5 L503.05,457.5 L503.05,483.2 L509.96,483.2 L509.96,461.2 L515.98,461.2 L515.98,466.7 L522.88,466.7 L522.88,464.2 L529.35,464.2 L529.35,452 L535.37,452 L535.37,469.3 L542.28,469.3 L542.28,443.8 L548.3,443.8 L548.3,471.8 L555.2,471.8 L555.2,432.8 L561.67,432.8 L561.67,393.8 L568.13,393.8 L568.13,384.7 L574.16,384.7 L574.16,432.8 L581.06,432.8 L581.06,400 L587.08,400 L587.08,447.5 L593.99,447.5 L593.99,408.3 L600.01,408.3 L600.01,480.3 L606.92,480.3 L606.92,406.3 L612.94,406.3 L612.94,449.2 L619.84,449.2 L619.84,403.8 L625.87,403.8 L625.87,446.7 L632.77,446.7 L632.77,399.2 L638.8,399.2 L638.8,414.7 L645.26,414.7 L645.26,418.3 L651.72,418.3 L651.72,432.8 L658.19,432.8 L658.19,452.6 L665.09,452.6 L665.09,439.2 L671.56,439.2 L671.56,346 L677.58,346 L677.58,407.8 L684.48,407.8 L684.48,399.5 L690.51,399.5 L690.51,404.2 L696.97,404.2 L696.97,428.7 L703.44,428.7 L703.44,464 L710.34,464 L710.34,455 L716.36,455 L716.36,474 L723.27,474 L723.27,440.8 L729.29,440.8 L729.29,504.2 L736.2,504.2 L736.2,419.7 L742.22,419.7 L742.22,482 L749.12,482 L749.12,414.2 L755.15,414.2 L755.15,485 L762.05,485 L762.05,417.8 L768.08,417.8 L768.08,472.5 L774.98,472.5 L774.98,420.5 L781,420.5 L781,468 L787.91,468 L787.91,417.2 L793.93,417.2 L793.93,455 L800.84,455 L800.84,427.8 L806.86,427.8 L806.86,455 L813.76,455 L813.76,442 L819.79,442 L819.79,456.2 L826.69,456.2 L826.69,453.7 L832.72,453.7 L832.72,454.5 L839.18,454.5 L839.18,474.2 L846.08,474.2 L846.08,449.2 L852.11,449.2 L852.11,497.5 L859.01,497.5 L859.01,434.7 L865.04,434.7 L865.04,485.3 L871.94,485.3 L871.94,442 L877.96,442 L877.96,490.8 L884.87,490.8 L884.87,450.3 L890.89,450.3 L890.89,493 L897.8,493 L897.8,457.7 L903.82,457.7 L903.82,486.7 L910.72,486.7 L910.72,461.2 L916.75,461.2 L916.75,479.3 L923.65,479.3 L923.65,466.7 L929.68,466.7 L929.68,467.7 L936.14,467.7 L936.14,480.3 L943.04,480.3 L943.04,467.6 L949.07,467.6 L949.07,495.8 L955.97,495.8 L955.97,458.3 L962,458.3 L962,528.7 L968.9,528.7 L968.9,447.5 L974.92,447.5 L974.92,524.2 L981.83,524.2 L981.83,452.8 L987.85,452.8 L987.85,517.8 L994.76,517.8 L994.76,457.5 L1000.78,457.5 L1000.78,510.8 L1007.68,510.8 L1007.68,460.2 L1013.71,460.2 L1013.71,503.8 L1020.61,503.8 L1020.61,468.3 L1026.64,468.3 L1026.64,503 L1033.54,503 L1033.54,473.8 L1039.56,473.8 L1039.56,492 L1046.47,492 L1046.47,473 L1052.49,473 L1052.49,486.7 L1058.96,486.7 L1058.96,487.8 L1065.86,487.8 L1065.86,480.3 L1071.88,480.3 L1071.88,493 L1078.79,493 L1078.79,466.7 L1084.81,466.7 L1084.81,513 L1091.72,513 L1091.72,447.5 L1097.74,447.5 L1097.74,494.5 L1104.64,494.5 L1104.64,435.8 L1110.67,435.8 L1110.67,472.9 L1117.57,472.9 L1117.57,416.7 L1123.6,416.7 L1123.6,440 L1130.5,440 L1130.5,384.5 L1136.96,384.5 L1136.96,383 L1143.43,383 L1143.43,318.8 L1149.45,318.8 L1149.45,391.7 L1155.92,391.7 L1155.92,565.5" fill="none" stroke="#c85400" stroke-opacity="0.75" stroke-width="2.0" stroke-linejoin="miter" clip-path="url(#s2)"/>
<clipPath id="s3"><path d="M671.56,565.5 L671.56,385 L677.58,385 L677.58,407.8 L684.48,407.8 L684.48,399.5 L690.51,399.5 L690.51,404.2 L696.97,404.2 L696.97,428.7 L703.44,428.7 L703.44,464 L710.34,464 L710.34,455 L716.36,455 L716.36,474 L723.27,474 L723.27,440.8 L729.29,440.8 L729.29,504.2 L736.2,504.2 L736.2,419.7 L742.22,419.7 L742.22,482 L749.12,482 L749.12,414.2 L755.15,414.2 L755.15,485 L762.05,485 L762.05,417.8 L768.08,417.8 L768.08,472.5 L774.98,472.5 L774.98,420.5 L781,420.5 L781,468 L787.91,468 L787.91,417.2 L793.93,417.2 L793.93,455 L800.84,455 L800.84,427.8 L806.86,427.8 L806.86,455 L813.76,455 L813.76,442 L819.79,442 L819.79,456.2 L826.69,456.2 L826.69,453.7 L832.72,453.7 L832.72,454.5 L839.18,454.5 L839.18,474.2 L846.08,474.2 L846.08,449.2 L852.11,449.2 L852.11,541.7 L858.57,541.7 L858.57,565.5Z"/></clipPath>
<path d="M671.56,565.5 L671.56,385 L677.58,385 L677.58,407.8 L684.48,407.8 L684.48,399.5 L690.51,399.5 L690.51,404.2 L696.97,404.2 L696.97,428.7 L703.44,428.7 L703.44,464 L710.34,464 L710.34,455 L716.36,455 L716.36,474 L723.27,474 L723.27,440.8 L729.29,440.8 L729.29,504.2 L736.2,504.2 L736.2,419.7 L742.22,419.7 L742.22,482 L749.12,482 L749.12,414.2 L755.15,414.2 L755.15,485 L762.05,485 L762.05,417.8 L768.08,417.8 L768.08,472.5 L774.98,472.5 L774.98,420.5 L781,420.5 L781,468 L787.91,468 L787.91,417.2 L793.93,417.2 L793.93,455 L800.84,455 L800.84,427.8 L806.86,427.8 L806.86,455 L813.76,455 L813.76,442 L819.79,442 L819.79,456.2 L826.69,456.2 L826.69,453.7 L832.72,453.7 L832.72,454.5 L839.18,454.5 L839.18,474.2 L846.08,474.2 L846.08,449.2 L852.11,449.2 L852.11,541.7 L858.57,541.7 L858.57,565.5Z" fill="#f0e442" fill-opacity="0.7"/>
<path d="M677.8,408.8V562.5M684.26,408.8V562.5M690.73,405.2V562.5M697.19,429.7V562.5M703.66,465V562.5M710.12,465V562.5M716.58,475V562.5M723.05,475V562.5M729.51,505.2V562.5M735.98,505.2V562.5M742.44,483V562.5M748.9,483V562.5M755.37,486V562.5M761.83,486V562.5M768.3,473.5V562.5M774.76,473.5V562.5M781.22,469V562.5M787.69,469V562.5M794.15,456V562.5M800.62,456V562.5M807.08,456V562.5M813.54,456V562.5M820.01,457.2V562.5M826.47,457.2V562.5M832.94,455.5V562.5M839.4,475.2V562.5M845.86,475.2V562.5M852.33,542.7V562.5" stroke="#fff" stroke-opacity="0.18" stroke-width="1.8" fill="none"/>
<path d="M671.56,565.5 L671.56,385 L677.58,385 L677.58,407.8 L684.48,407.8 L684.48,399.5 L690.51,399.5 L690.51,404.2 L696.97,404.2 L696.97,428.7 L703.44,428.7 L703.44,464 L710.34,464 L710.34,455 L716.36,455 L716.36,474 L723.27,474 L723.27,440.8 L729.29,440.8 L729.29,504.2 L736.2,504.2 L736.2,419.7 L742.22,419.7 L742.22,482 L749.12,482 L749.12,414.2 L755.15,414.2 L755.15,485 L762.05,485 L762.05,417.8 L768.08,417.8 L768.08,472.5 L774.98,472.5 L774.98,420.5 L781,420.5 L781,468 L787.91,468 L787.91,417.2 L793.93,417.2 L793.93,455 L800.84,455 L800.84,427.8 L806.86,427.8 L806.86,455 L813.76,455 L813.76,442 L819.79,442 L819.79,456.2 L826.69,456.2 L826.69,453.7 L832.72,453.7 L832.72,454.5 L839.18,454.5 L839.18,474.2 L846.08,474.2 L846.08,449.2 L852.11,449.2 L852.11,541.7 L858.57,541.7 L858.57,565.5" fill="none" stroke="#ecd020" stroke-opacity="0.8" stroke-width="2.0" stroke-linejoin="miter" clip-path="url(#s3)"/>
<path d="M193.5,375V562.5M1155.64,391.7V562.5" stroke="#a01800" stroke-opacity="0.75" stroke-width="1" fill="none"/>
</g>
<rect x="181.7" y="105.6" width="987.2" height="456.9" fill="none" stroke="#cecece" stroke-width="1.2"/>
<g opacity="0.99" stroke="#000" stroke-width="0.18">
<text x="193.2" y="586.3" font-size="20.5" text-anchor="middle" textLength="25.6" lengthAdjust="spacingAndGlyphs" >−4</text>
<text x="313.68" y="586.3" font-size="20.5" text-anchor="middle" textLength="25.6" lengthAdjust="spacingAndGlyphs" >−3</text>
<text x="434.15" y="586.3" font-size="20.5" text-anchor="middle" textLength="25.6" lengthAdjust="spacingAndGlyphs" >−2</text>
<text x="554.62" y="586.3" font-size="20.5" text-anchor="middle" textLength="25.6" lengthAdjust="spacingAndGlyphs" >−1</text>
<text x="674.9" y="586.3" font-size="20.5" text-anchor="middle" textLength="11.3" lengthAdjust="spacingAndGlyphs" >0</text>
<text x="795.38" y="586.3" font-size="20.5" text-anchor="middle" textLength="11.3" lengthAdjust="spacingAndGlyphs" >1</text>
<text x="915.85" y="586.3" font-size="20.5" text-anchor="middle" textLength="11.3" lengthAdjust="spacingAndGlyphs" >2</text>
<text x="1036.33" y="586.3" font-size="20.5" text-anchor="middle" textLength="11.3" lengthAdjust="spacingAndGlyphs" >3</text>
<text x="1156.8" y="586.3" font-size="20.5" text-anchor="middle" textLength="11.3" lengthAdjust="spacingAndGlyphs" >4</text>
<text x="137.4" y="243.9" font-size="20.5" text-anchor="start" textLength="24.2" lengthAdjust="spacingAndGlyphs" >10</text>
<text x="161.6" y="237.5" font-size="14.4" text-anchor="start" textLength="7.3" lengthAdjust="spacingAndGlyphs" >6</text>
<text x="137.4" y="385.2" font-size="20.5" text-anchor="start" textLength="24.2" lengthAdjust="spacingAndGlyphs" >10</text>
<text x="161.6" y="378.8" font-size="14.4" text-anchor="start" textLength="7.3" lengthAdjust="spacingAndGlyphs" >5</text>
<text x="137.4" y="526.4" font-size="20.5" text-anchor="start" textLength="24.2" lengthAdjust="spacingAndGlyphs" >10</text>
<text x="161.6" y="520" font-size="14.4" text-anchor="start" textLength="7.3" lengthAdjust="spacingAndGlyphs" >4</text>
<text x="674" y="608.8" font-size="20.5" text-anchor="middle" textLength="161" lengthAdjust="spacingAndGlyphs" >Drift Rate (Hz/s)</text>
<g transform="translate(126.9,333.7) rotate(-90)"><text x="0" y="0" font-size="20.5" text-anchor="middle" textLength="235.5" lengthAdjust="spacingAndGlyphs" >Count of Hits (log scale)</text></g>
<rect x="879.6" y="114.9" width="279.8" height="86.3" rx="3.5" ry="3.5" fill="#fff" fill-opacity="0.9" stroke="#000" stroke-width="1.2"/>
<rect x="886.7" y="123.5" width="36.6" height="11.7" fill="#0000ff" fill-opacity="0.7" stroke="#0000ff" stroke-opacity="0.7" stroke-width="1"/>
<rect x="886.7" y="150.5" width="36.6" height="11.7" fill="#d55e00" fill-opacity="0.7" stroke="#d55e00" stroke-opacity="0.7" stroke-width="1"/>
<rect x="886.7" y="177.5" width="36.6" height="11.7" fill="#f0e442" fill-opacity="0.7" stroke="#f0e442" stroke-opacity="0.7" stroke-width="1"/>
<text x="940.8" y="135.9" font-size="20.5" text-anchor="start" textLength="72" lengthAdjust="spacingAndGlyphs" >All Hits</text>
<text x="940.8" y="162.7" font-size="20.5" text-anchor="start" textLength="194.4" lengthAdjust="spacingAndGlyphs" >Blanking Range Cut</text>
<text x="940.8" y="189.7" font-size="20.5" text-anchor="start" textLength="211.2" lengthAdjust="spacingAndGlyphs" >Drift Rate Range Hits</text>
</g>
</svg>
</body></html>
